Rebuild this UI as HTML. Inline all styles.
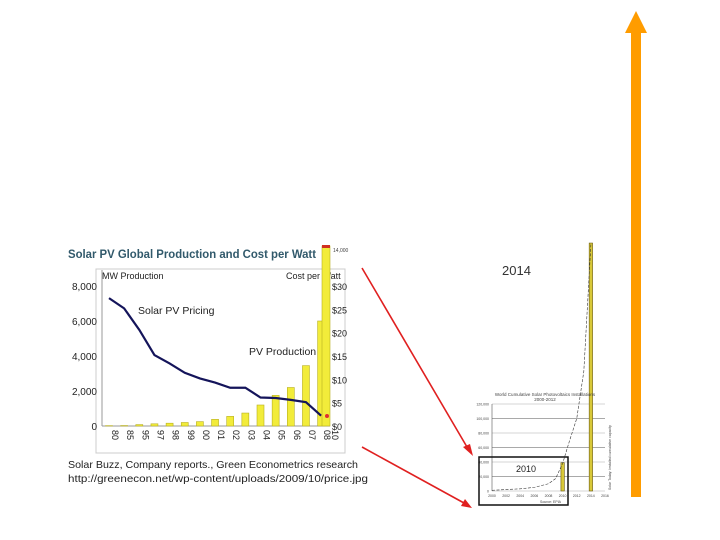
<!DOCTYPE html>
<html><head><meta charset="utf-8"><style>
html,body{margin:0;padding:0;background:#fff;}
svg{display:block;font-family:"Liberation Sans",sans-serif;}
</style></head><body>
<svg id="s" width="720" height="540" viewBox="0 0 720 540">
<rect width="720" height="540" fill="#fff"/>
<text x="68" y="258" font-size="12" font-weight="bold" fill="#31596b" textLength="248" lengthAdjust="spacingAndGlyphs">Solar PV Global Production and Cost per Watt</text>
<rect x="96" y="269" width="249" height="184" fill="#fff" stroke="#ccc"/>
<text x="102" y="279" font-size="9" fill="#222">MW Production</text>
<text x="286" y="279" font-size="9" fill="#222">Cost per Watt</text>
<g id="left"></g>
<text x="138" y="314" font-size="10.5" fill="#222">Solar PV Pricing</text>
<text x="249" y="355" font-size="10.5" fill="#222">PV Production</text>
<text x="68" y="468" font-size="10.5" fill="#222" textLength="290" lengthAdjust="spacingAndGlyphs">Solar Buzz, Company reports., Green Econometrics research</text>
<text x="68" y="482" font-size="10.5" fill="#222" textLength="300" lengthAdjust="spacingAndGlyphs">http://greenecon.net/wp-content/uploads/2009/10/price.jpg</text>
<rect x="322" y="246" width="8" height="180" fill="#f2ec3a" stroke="#b8b020" stroke-width="0.6"/>
<rect x="322" y="245" width="8" height="3" fill="#d03020"/>
<text x="333" y="252" font-size="5" fill="#444">14,000</text>
<circle cx="327" cy="416" r="2" fill="#e03030"/>

<g id="right"></g>
<text x="502" y="275" font-size="13" fill="#333">2014</text>
<text x="545" y="396" font-size="4.5" fill="#444" text-anchor="middle">World Cumulative Solar Photovoltaics Installations</text>
<text x="545" y="401" font-size="4.5" fill="#444" text-anchor="middle">2000-2012</text>
<rect x="479" y="457" width="89" height="48" fill="none" stroke="#111" stroke-width="1.5"/>
<text x="516" y="472" font-size="9" fill="#222">2010</text>
<text x="540" y="503" font-size="3.5" fill="#444">Source: EPIA</text>
<text transform="translate(611,490) rotate(-90)" font-size="3.5" fill="#444">Solar Today: Installed cumulative capacity</text>

<line x1="362" y1="268" x2="467" y2="447" stroke="#e02020" stroke-width="1.6"/>
<polygon points="473,456 463,447 470,444" fill="#e02020"/>
<line x1="362" y1="447" x2="464" y2="503" stroke="#e02020" stroke-width="1.6"/>
<polygon points="472,508 461,506 465,499" fill="#e02020"/>
<rect x="631" y="32" width="10" height="465" fill="#ff9c00"/>
<polygon points="636,11 625,33 647,33" fill="#ff9c00"/>
</svg>
<script>
const categories=["80","85","95","97","98","99","00","01","02","03","04","05","06","07","08"];
const production=[20,25,80,125,160,200,250,380,550,740,1200,1750,2200,3450,6000];
const price=[27.4,25.2,20.6,15.2,13.4,11.4,10.2,9.3,8.2,8.2,6.1,6.0,5.6,5.1,2.2];
const yTicks=["0","2,000","4,000","6,000","8,000"];
const yTickVals=[0,2000,4000,6000,8000];
const priceTicks=["$0","$5","$10","$15","$20","$25","$30"];
const priceTickVals=[0,5,10,15,20,25,30];
const rYears=["2000","2002","2004","2006","2008","2010","2012","2014","2016"];
const rTicks=["0","20,000","40,000","60,000","80,000","100,000","120,000"];
const rCurveYears=[2000,2004,2006,2008,2009,2010,2011,2012,2013,2014];
const rCurveVals=[1000,3000,5000,10000,17000,38000,70000,100000,165000,340000];
const rBarYears=[2010,2014];
const rBarVals=[39000,342000];
const NS="http://www.w3.org/2000/svg";
function mk(p,t,a){const e=document.createElementNS(NS,t);for(const k in a)e.setAttribute(k,a[k]);p.appendChild(e);return e;}
const L=document.getElementById('left');
const x=i=>109+i*15.15;
const y=v=>426-v*(140/8000);
const yp=v=>426-v*(140/30);
mk(L,'line',{x1:102,y1:270,x2:102,y2:426,stroke:'#999'});
mk(L,'line',{x1:102,y1:426,x2:330,y2:426,stroke:'#999'});
mk(L,'line',{x1:328,y1:284,x2:328,y2:426,stroke:'#999'});
yTicks.forEach((t,i)=>{const e=mk(L,'text',{x:97,y:y(yTickVals[i])+4,'font-size':10,'text-anchor':'end',fill:'#222'});e.textContent=t;

});
priceTicks.forEach((t,i)=>{const e=mk(L,'text',{x:332,y:yp(priceTickVals[i])+4,'font-size':9,fill:'#222'});e.textContent=t;

});
categories.forEach((c,i)=>{
const r=mk(L,'rect',{x:x(i)-3.5,y:y(production[i]),width:7,height:426-y(production[i]),fill:'#f2ec3a',stroke:'#b8b020','stroke-width':0.6});


const t=mk(L,'text',{transform:`translate(${x(i)+3},430) rotate(90)`,'font-size':9,fill:'#222'});t.textContent=c;

});
const t10=mk(L,'text',{transform:'translate(332,430) rotate(90)','font-size':9,fill:'#222'});t10.textContent="10";


const pl=mk(L,'polyline',{points:price.map((v,i)=>x(i)+','+yp(v)).join(' '),fill:'none',stroke:'#14145a','stroke-width':2.2});


const R=document.getElementById('right');
const rx=yr=>492+(yr-2000)*(113/16);
const ry=v=>491-v*(87/120000);
rTicks.forEach((t,i)=>{const v=i*20000;
const g=mk(R,'line',{x1:492,y1:ry(v),x2:605,y2:ry(v),stroke:i%2?'#555':'#aaa','stroke-width':0.6});


const e=mk(R,'text',{x:489,y:ry(v)+1.5,'font-size':3.5,'text-anchor':'end',fill:'#444'});e.textContent=t;

});
mk(R,'line',{x1:492,y1:404,x2:492,y2:491,stroke:'#555','stroke-width':0.6});
rYears.forEach(t=>{const e=mk(R,'text',{x:rx(+t),y:497,'font-size':3.5,'text-anchor':'middle',fill:'#444'});e.textContent=t;

});
rBarYears.forEach((yr,i)=>{const r=mk(R,'rect',{x:rx(yr)-1.7,y:ry(rBarVals[i]),width:3.4,height:491-ry(rBarVals[i]),fill:'#d8c838',stroke:'#6a5a10','stroke-width':0.6});

});
const c=mk(R,'polyline',{points:rCurveYears.map((yr,i)=>rx(yr)+','+ry(rCurveVals[i])).join(' '),fill:'none',stroke:'#333','stroke-width':0.6,'stroke-dasharray':'3,1.5'});


</script>
</body></html>
